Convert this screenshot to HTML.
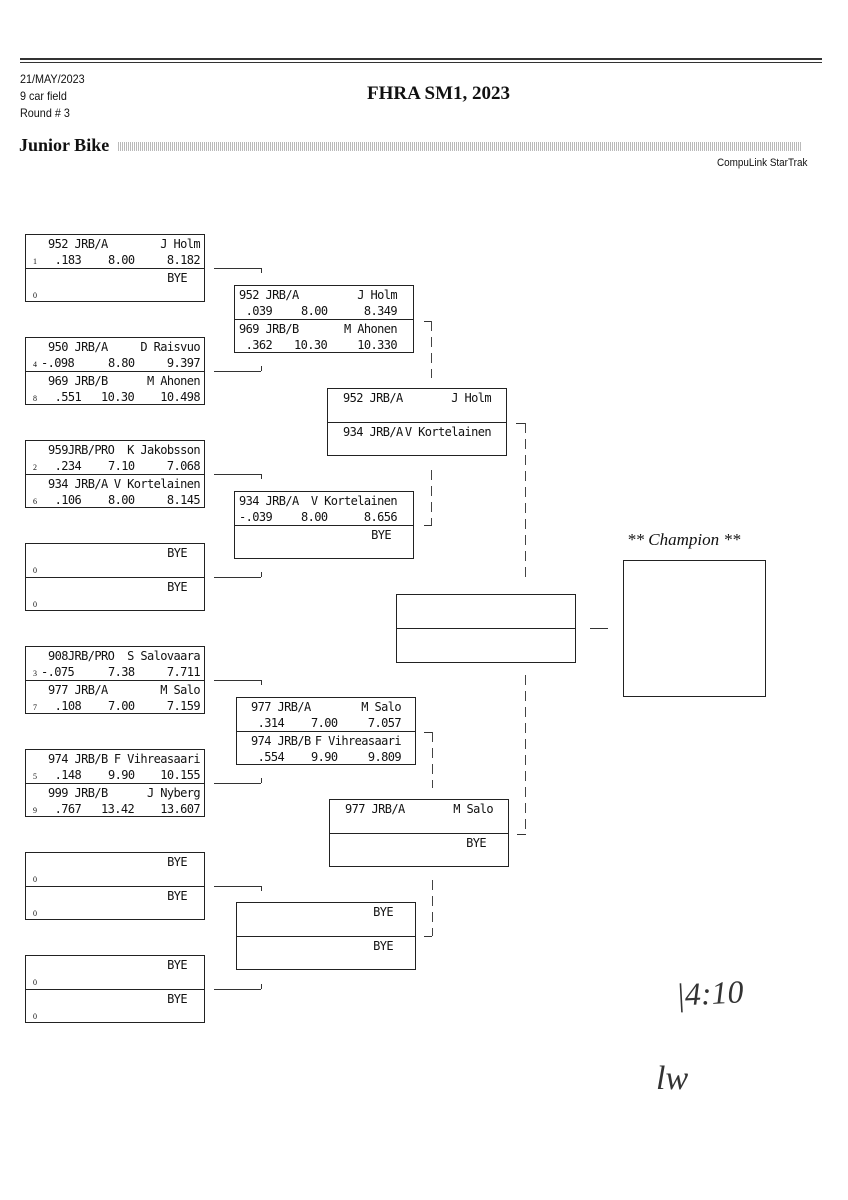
<!DOCTYPE html>
<html><head><meta charset="utf-8"><style>
body{margin:0;width:848px;height:1200px;background:#fff;position:relative;overflow:hidden;font-family:"DejaVu Sans Mono","Liberation Mono",monospace;color:#111}
.a{position:absolute}
.b{position:absolute;width:180px;height:68px;border:1px solid #222;box-sizing:border-box}
.b .m{position:absolute;left:0;right:0;top:33px;border-top:1px solid #222}
.t{position:absolute;font-size:12px;letter-spacing:-0.6px;white-space:pre;line-height:14px}
.s{position:absolute;font-size:8px;font-family:"Liberation Serif",serif;line-height:9px}
.h{position:absolute;border-top:1px solid #333}
.v{position:absolute;border-left:1px solid #333}
.dv{position:absolute;width:1px;background:repeating-linear-gradient(180deg,#444 0 10px,transparent 10px 16px)}
</style></head><body>
<div class="h" style="left:20px;top:58px;width:802px;border-top:2px solid #333"></div>
<div class="h" style="left:20px;top:62px;width:802px"></div>
<div class="a" style="left:20px;top:71px;font:12px 'Liberation Sans Narrow','Liberation Sans',sans-serif;line-height:17px;transform:scaleX(0.9);transform-origin:left">21/MAY/2023<br>9 car field<br>Round # 3</div>
<div class="a" style="left:367px;top:83px;font:bold 19px 'Liberation Serif',serif">FHRA SM1, 2023</div>
<div class="a" style="left:19px;top:135px;font:bold 18px 'Liberation Serif',serif">Junior Bike</div>
<div class="a" style="left:118px;top:142px;width:684px;height:9px;background:repeating-linear-gradient(90deg,#aaa 0 1px,#fff 1px 2px),#fff;opacity:.8"></div>
<div class="a" style="left:717px;top:157px;font:11px 'Liberation Sans Narrow','Liberation Sans',sans-serif;transform:scaleX(0.9);transform-origin:left">CompuLink StarTrak</div>

<!-- Round 1 -->
<div class="b" style="left:25px;top:234px"><div class="m"></div>
<span class="t" style="left:22px;top:2px">952 JRB/A</span><span class="t" style="right:4px;top:2px">J Holm</span>
<span class="s" style="left:7px;top:22px">1</span><span class="t" style="left:22px;top:18px"> .183</span><span class="t" style="left:82px;top:18px">8.00</span><span class="t" style="right:4px;top:18px">8.182</span>
<span class="t" style="right:17px;top:36px">BYE</span><span class="s" style="left:7px;top:56px">0</span></div>

<div class="b" style="left:25px;top:337px"><div class="m"></div>
<span class="t" style="left:22px;top:2px">950 JRB/A</span><span class="t" style="right:4px;top:2px">D Raisvuo</span>
<span class="s" style="left:7px;top:22px">4</span><span class="t" style="left:15px;top:18px">-.098</span><span class="t" style="left:82px;top:18px">8.80</span><span class="t" style="right:4px;top:18px">9.397</span>
<span class="t" style="left:22px;top:36px">969 JRB/B</span><span class="t" style="right:4px;top:36px">M Ahonen</span>
<span class="s" style="left:7px;top:56px">8</span><span class="t" style="left:22px;top:52px"> .551</span><span class="t" style="left:75px;top:52px">10.30</span><span class="t" style="right:4px;top:52px">10.498</span></div>

<div class="b" style="left:25px;top:440px"><div class="m"></div>
<span class="t" style="left:22px;top:2px">959JRB/PRO</span><span class="t" style="right:4px;top:2px">K Jakobsson</span>
<span class="s" style="left:7px;top:22px">2</span><span class="t" style="left:22px;top:18px"> .234</span><span class="t" style="left:82px;top:18px">7.10</span><span class="t" style="right:4px;top:18px">7.068</span>
<span class="t" style="left:22px;top:36px">934 JRB/A</span><span class="t" style="right:4px;top:36px">V Kortelainen</span>
<span class="s" style="left:7px;top:56px">6</span><span class="t" style="left:22px;top:52px"> .106</span><span class="t" style="left:82px;top:52px">8.00</span><span class="t" style="right:4px;top:52px">8.145</span></div>

<div class="b" style="left:25px;top:543px"><div class="m"></div>
<span class="t" style="right:17px;top:2px">BYE</span><span class="s" style="left:7px;top:22px">0</span>
<span class="t" style="right:17px;top:36px">BYE</span><span class="s" style="left:7px;top:56px">0</span></div>

<div class="b" style="left:25px;top:646px"><div class="m"></div>
<span class="t" style="left:22px;top:2px">908JRB/PRO</span><span class="t" style="right:4px;top:2px">S Salovaara</span>
<span class="s" style="left:7px;top:22px">3</span><span class="t" style="left:15px;top:18px">-.075</span><span class="t" style="left:82px;top:18px">7.38</span><span class="t" style="right:4px;top:18px">7.711</span>
<span class="t" style="left:22px;top:36px">977 JRB/A</span><span class="t" style="right:4px;top:36px">M Salo</span>
<span class="s" style="left:7px;top:56px">7</span><span class="t" style="left:22px;top:52px"> .108</span><span class="t" style="left:82px;top:52px">7.00</span><span class="t" style="right:4px;top:52px">7.159</span></div>

<div class="b" style="left:25px;top:749px"><div class="m"></div>
<span class="t" style="left:22px;top:2px">974 JRB/B</span><span class="t" style="right:4px;top:2px">F Vihreasaari</span>
<span class="s" style="left:7px;top:22px">5</span><span class="t" style="left:22px;top:18px"> .148</span><span class="t" style="left:82px;top:18px">9.90</span><span class="t" style="right:4px;top:18px">10.155</span>
<span class="t" style="left:22px;top:36px">999 JRB/B</span><span class="t" style="right:4px;top:36px">J Nyberg</span>
<span class="s" style="left:7px;top:56px">9</span><span class="t" style="left:22px;top:52px"> .767</span><span class="t" style="left:75px;top:52px">13.42</span><span class="t" style="right:4px;top:52px">13.607</span></div>

<div class="b" style="left:25px;top:852px"><div class="m"></div>
<span class="t" style="right:17px;top:2px">BYE</span><span class="s" style="left:7px;top:22px">0</span>
<span class="t" style="right:17px;top:36px">BYE</span><span class="s" style="left:7px;top:56px">0</span></div>

<div class="b" style="left:25px;top:955px"><div class="m"></div>
<span class="t" style="right:17px;top:2px">BYE</span><span class="s" style="left:7px;top:22px">0</span>
<span class="t" style="right:17px;top:36px">BYE</span><span class="s" style="left:7px;top:56px">0</span></div>

<!-- R1 connectors -->
<div class="h" style="left:214px;top:268px;width:47px"></div><div class="v" style="left:261px;top:268px;height:5px"></div>
<div class="h" style="left:214px;top:371px;width:47px"></div><div class="v" style="left:261px;top:366px;height:5px"></div>
<div class="h" style="left:214px;top:474px;width:47px"></div><div class="v" style="left:261px;top:474px;height:5px"></div>
<div class="h" style="left:214px;top:577px;width:47px"></div><div class="v" style="left:261px;top:572px;height:5px"></div>
<div class="h" style="left:214px;top:680px;width:47px"></div><div class="v" style="left:261px;top:680px;height:5px"></div>
<div class="h" style="left:214px;top:783px;width:47px"></div><div class="v" style="left:261px;top:778px;height:5px"></div>
<div class="h" style="left:214px;top:886px;width:47px"></div><div class="v" style="left:261px;top:886px;height:5px"></div>
<div class="h" style="left:214px;top:989px;width:47px"></div><div class="v" style="left:261px;top:984px;height:5px"></div>

<!-- Round 2 -->
<div class="b" style="left:234px;top:285px"><div class="m"></div>
<span class="t" style="left:4px;top:2px">952 JRB/A</span><span class="t" style="right:16px;top:2px">J Holm</span>
<span class="t" style="left:4px;top:18px"> .039</span><span class="t" style="left:66px;top:18px">8.00</span><span class="t" style="right:16px;top:18px">8.349</span>
<span class="t" style="left:4px;top:36px">969 JRB/B</span><span class="t" style="right:16px;top:36px">M Ahonen</span>
<span class="t" style="left:4px;top:52px"> .362</span><span class="t" style="left:59px;top:52px">10.30</span><span class="t" style="right:16px;top:52px">10.330</span></div>

<div class="b" style="left:234px;top:491px"><div class="m"></div>
<span class="t" style="left:4px;top:2px">934 JRB/A</span><span class="t" style="right:16px;top:2px">V Kortelainen</span>
<span class="t" style="left:4px;top:18px">-.039</span><span class="t" style="left:66px;top:18px">8.00</span><span class="t" style="right:16px;top:18px">8.656</span>
<span class="t" style="right:22px;top:36px">BYE</span></div>

<div class="b" style="left:236px;top:697px"><div class="m"></div>
<span class="t" style="left:14px;top:2px">977 JRB/A</span><span class="t" style="right:14px;top:2px">M Salo</span>
<span class="t" style="left:14px;top:18px"> .314</span><span class="t" style="left:74px;top:18px">7.00</span><span class="t" style="right:14px;top:18px">7.057</span>
<span class="t" style="left:14px;top:36px">974 JRB/B</span><span class="t" style="right:14px;top:36px">F Vihreasaari</span>
<span class="t" style="left:14px;top:52px"> .554</span><span class="t" style="left:74px;top:52px">9.90</span><span class="t" style="right:14px;top:52px">9.809</span></div>

<div class="b" style="left:236px;top:902px"><div class="m"></div>
<span class="t" style="right:22px;top:2px">BYE</span><span class="t" style="right:22px;top:36px">BYE</span></div>

<!-- R2 connectors -->
<div class="h" style="left:424px;top:321px;width:8px"></div><div class="dv" style="left:431px;top:321px;height:57px"></div>
<div class="dv" style="left:431px;top:470px;height:55px"></div><div class="h" style="left:424px;top:525px;width:8px"></div>
<div class="h" style="left:424px;top:732px;width:8px"></div><div class="dv" style="left:432px;top:732px;height:56px"></div>
<div class="dv" style="left:432px;top:880px;height:56px"></div><div class="h" style="left:424px;top:936px;width:8px"></div>

<!-- Round 3 -->
<div class="b" style="left:327px;top:388px"><div class="m"></div>
<span class="t" style="left:15px;top:2px">952 JRB/A</span><span class="t" style="right:15px;top:2px">J Holm</span>
<span class="t" style="left:15px;top:36px">934 JRB/A</span><span class="t" style="right:15px;top:36px">V Kortelainen</span></div>
<div class="b" style="left:329px;top:799px"><div class="m"></div>
<span class="t" style="left:15px;top:2px">977 JRB/A</span><span class="t" style="right:15px;top:2px">M Salo</span>
<span class="t" style="right:22px;top:36px">BYE</span></div>

<div class="h" style="left:516px;top:423px;width:9px"></div><div class="dv" style="left:525px;top:423px;height:160px"></div>
<div class="dv" style="left:525px;top:675px;height:159px"></div><div class="h" style="left:517px;top:834px;width:9px"></div>

<!-- Final -->
<div class="b" style="left:396px;top:594px;height:69px"><div class="m"></div></div>
<div class="h" style="left:590px;top:628px;width:18px"></div>
<div class="a" style="left:627px;top:530px;font:italic 17px 'Liberation Serif',serif">** Champion **</div>
<div class="b" style="left:623px;top:560px;width:143px;height:137px"></div>

<div class="a" style="left:676px;top:975px;font:italic 32px 'Liberation Serif',serif;color:#333;transform:rotate(-3deg)">|4:10</div>
<div class="a" style="left:656px;top:1060px;font:italic 34px 'Liberation Serif',serif;color:#333">lw</div>
</body></html>
